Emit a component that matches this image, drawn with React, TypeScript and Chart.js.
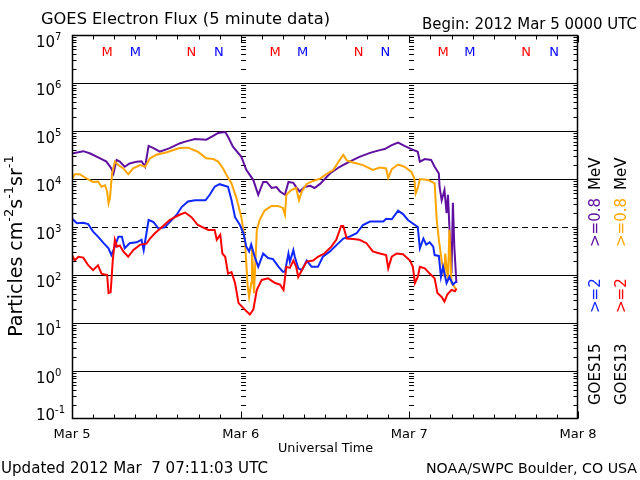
import React, { useEffect, useRef } from "react";
import { Chart, registerables } from "chart.js";

Chart.register(...registerables);

// ---- Data (hours since 2012 Mar 5 00:00 UTC, flux in particles cm^-2 s^-1 sr^-1) ----
const hoursG15Low = [0,1.6,2.6,4.0,4.9,5.6,5.9,6.35,6.8,7.5,8.2,9.2,9.9,10.4,10.9,11.6,12.5,13.9,15.3,16.1,17.5,19.1,19.9,20.8,21.8,22.2,22.9,24.1,24.8,25.8,26.5,27.2,27.7,28.4,29.1,29.6,30.3,30.8,31.5,31.9,32.4,33.1,33.9,34.5,35.3,36.7,38.1,39.5,40.9,42.4,43.8,44.5,45.5,46.4,47.3,48.3,49.2,49.5,50.2,51.1,51.6,52.2,52.3,52.6,53.0,53.3,53.5,53.7,54.0,54.2,54.4,54.7];
const fluxG15Low = [3.4e4,3.8e4,3.4e4,2.7e4,2.3e4,1.66e4,1.3e4,2.5e4,2.3e4,1.8e4,2.1e4,2.3e4,2.35e4,1.8e4,4.9e4,4.4e4,3.7e4,4.4e4,5.5e4,6.0e4,6.8e4,6.6e4,7.6e4,9.1e4,9.5e4,7.6e4,4.7e4,2.9e4,1.55e4,9.5e3,4.7e3,8.7e3,8.7e3,6.5e3,6.8e3,5.5e3,4.7e3,8.7e3,8.3e3,6.8e3,5.5e3,6.8e3,7.2e3,6.5e3,7.9e3,1.3e4,1.8e4,2.3e4,2.9e4,3.5e4,4.0e4,4.2e4,5.1e4,5.75e4,4.9e4,4.2e4,3.7e4,2.3e4,2.6e4,2.5e4,1.8e4,1.3e4,6.9e3,3.6e3,5.9e3,1.95e3,4.7e3,1.0e3,110,3.2e3,390,68];

const hoursG13Low = [0,0.4,1.1,2.1,3.0,3.7,4.2,4.7,5.0,5.2,5.4,5.7,6.1,6.6,7.3,8.0,8.7,9.7,10.4,11.1,12.0,13.5,15.3,16.5,17.9,19.1,20.1,20.8,21.5,22.0,22.7,23.4,24.1,24.6,25.0,25.2,25.5,25.6,25.9,26.3,26.7,27.4,28.4,29.3,30.0,30.3,30.5,31.2,31.9,32.3,32.7,33.4,34.3,35.3,36.2,37.2,38.1,38.6,39.1,40.0,41.4,42.8,43.8,44.7,45.0,45.5,46.4,47.3,48.3,48.7,48.9,49.2,49.5,50.7,51.6,51.9,52.2,52.6,53.0,53.1,53.5,53.7,54.0,54.2,54.7];
const fluxG13Low = [1.02e4,1.26e4,1.26e4,1.02e4,8.7e3,8.9e3,6.9e3,7.4e3,5.5e3,3.1e3,4.0e3,1.3e4,2.3e4,1.95e4,1.66e4,1.26e4,1.66e4,1.95e4,1.8e4,2.7e4,3.2e4,3.6e4,4.4e4,4.5e4,3.7e4,2.7e4,2.6e4,2.3e4,1.66e4,1.2e4,8.1e3,4.0e3,1.6e3,540,58,35,68,390,42,870,1.4e3,2.2e3,2.75e3,2.75e3,2.5e3,1.8e3,4.7e3,5.9e3,6.5e3,3.6e3,5.5e3,7.9e3,9.1e3,1.02e4,1.26e4,1.55e4,2.5e4,3.2e4,2.45e4,2.2e4,1.95e4,1.55e4,1.74e4,1.66e4,1.05e4,1.6e4,2.0e4,1.8e4,1.4e4,1.05e4,5.0e3,6.5e3,1.0e4,9.5e3,8.1e3,1.4e3,540,200,91,280,79,870,68,63,49];

const hoursG15High = [0,0.7,1.6,2.3,3.0,3.7,4.5,5.2,5.6,6.1,6.6,7.1,7.5,8.2,9.2,9.9,10.2,10.9,11.6,12.3,13.2,13.9,14.9,15.6,16.5,17.5,19.0,19.6,20.3,21.0,22.2,22.7,23.2,23.9,24.4,24.8,25.2,25.5,26.0,26.5,27.2,27.9,28.6,29.4,30.0,30.3,30.8,31.0,31.5,31.7,32.2,32.7,33.4,34.1,35.0,35.7,36.7,37.7,38.6,39.5,40.5,41.4,42.4,43.3,44.3,44.7,45.5,46.4,47.1,47.8,48.8,49.2,49.5,50.0,50.4,50.9,51.4,51.6,52.2,52.5,52.8,53.3,53.7,54.2,54.7];
const fluxG15High = [1.5e3,1.2e3,1.23e3,1.15e3,800,630,460,360,260,390,630,630,360,460,480,540,330,1.4e3,1.26e3,930,980,1.26e3,1.8e3,2.6e3,3.4e3,3.6e3,3.6e3,4.7e3,6.9e3,7.8e3,6.9e3,3.6e3,1.6e3,1.1e3,740,390,310,430,240,148,280,225,215,148,117,117,280,190,330,240,138,126,200,148,148,240,310,430,575,630,740,1.1e3,1.3e3,1.3e3,1.3e3,1.48e3,1.45e3,2.2e3,1.86e3,1.4e3,1.1e3,1.0e3,360,575,430,480,390,260,250,91,148,68,91,63,74];

const hoursG13High = [0,0.4,0.9,1.6,2.3,3.0,3.7,4.2,4.7,5.0,5.2,5.5,5.8,6.1,6.4,6.8,7.3,8.0,8.7,9.7,10.6,11.1,11.8,12.8,13.9,15.3,16.1,17.0,17.9,19.4,20.3,20.6,21.1,21.4,21.8,22.2,22.7,23.2,23.7,24.6,25.3,25.8,26.3,27.0,27.9,28.9,29.6,30.1,30.5,31.0,31.5,31.9,32.2,32.7,33.4,34.3,35.0,35.9,36.9,37.6,38.3,38.6,39.1,40.0,40.9,41.9,42.8,43.8,44.7,45.0,45.5,46.2,47.1,48.1,48.5,48.8,49.2,49.5,50.2,50.9,51.6,52.0,52.6,53.0,53.4,54.0,54.5,54.7];
const fluxG13High = [260,200,240,230,160,126,160,107,102,100,42,44,200,540,390,410,310,240,330,430,450,575,740,1.0e3,1.4e3,1.8e3,2.0e3,1.6e3,1.1e3,870,870,540,690,280,240,107,115,68,26,19,15,19,49,79,85,68,63,49,148,141,200,148,91,126,190,200,240,280,390,540,1.05e3,1.05e3,575,560,540,460,310,280,260,138,240,280,270,200,148,68,91,148,138,107,85,42,35,28,39,49,46,52];

// ---- Axis / label text ----
const dayHours = [0, 24, 48, 72];
const dayLabels = ["Mar 5", "Mar 6", "Mar 7", "Mar 8"];
const decadeValues = [1e7, 1e6, 1e5, 1e4, 1e3, 1e2, 1e1, 1e0, 1e-1];
const decadeExponents = ["7", "6", "5", "4", "3", "2", "1", "0", "-1"];
const dashedDecade = 1e3;
const minorMultipliers = [2, 3, 4, 5, 6, 7, 8, 9];
const tickStepHours = 3;
// Markers at top
const markerHours = [5.0, 9.0, 17.0, 20.9, 28.9, 32.8, 40.8, 44.6, 52.8, 56.6, 64.6, 68.6];
const markerLetters = ["M","M","N","N","M","M","N","N","M","M","N","N"];
const markerColors = ["#ff0000","#0000ff","#ff0000","#0000ff","#ff0000","#0000ff","#ff0000","#0000ff","#ff0000","#0000ff","#ff0000","#0000ff"];

const titleText = "GOES Electron Flux (5 minute data)";
const beginText = "Begin: 2012 Mar 5 0000 UTC";
const updatedText = "Updated 2012 Mar  7 07:11:03 UTC";
const creditText = "NOAA/SWPC Boulder, CO USA";
const xTitle = "Universal Time";

const COL_PURPLE = "rgb(96,16,160)";
const COL_ORANGE = "rgb(255,165,0)";
const COL_BLUE = "rgb(16,40,255)";
const COL_RED = "rgb(255,0,0)";

const FONT = "'DejaVu Sans', sans-serif";

function toPoints(h: number[], v: number[]) {
  return h.map((x, i) => ({ x, y: v[i] }));
}

function drawRich(ctx: CanvasRenderingContext2D, parts: [string, boolean][], x: number, y: number, base: number, sup: number) {
  ctx.textAlign = "left";
  let cx = x;
  for (const [t, isSup] of parts) {
    ctx.font = `${isSup ? sup : base}px ${FONT}`;
    ctx.fillText(t, cx, isSup ? y - base * 0.45 : y);
    cx += ctx.measureText(t).width;
  }
  return cx - x;
}
function measureRich(ctx: CanvasRenderingContext2D, parts: [string, boolean][], base: number, sup: number) {
  let w = 0;
  for (const [t, isSup] of parts) {
    ctx.font = `${isSup ? sup : base}px ${FONT}`;
    w += ctx.measureText(t).width;
  }
  return w;
}
// draw text squeezed/stretched horizontally to a given width; x is the left edge
function fitText(ctx: CanvasRenderingContext2D, text: string, left: number, y: number, width: number, size: number) {
  ctx.save();
  ctx.font = `${size}px ${FONT}`;
  ctx.textAlign = "left";
  const w = ctx.measureText(text).width;
  ctx.translate(left, y);
  ctx.scale(width / w, 1);
  ctx.fillText(text, 0, 0);
  ctx.restore();
}

const goesPlugin = {
  id: "goesDecor",
  beforeDatasetsDraw(chart: any) {
    const { ctx, chartArea: a, scales } = chart;
    const xs = scales.x, ys = scales.y;
    ctx.save();
    ctx.strokeStyle = "#000";
    ctx.lineWidth = 1;
    for (const d of decadeValues) {
      if (d === decadeValues[0] || d === decadeValues[decadeValues.length - 1]) continue;
      const py = Math.round(ys.getPixelForValue(d)) + 0.5;
      ctx.setLineDash(d === dashedDecade ? [6, 4] : []);
      ctx.beginPath();
      ctx.moveTo(a.left, py);
      ctx.lineTo(a.right, py);
      ctx.stroke();
    }
    ctx.setLineDash([]);
    // minor ticks at the day boundaries
    for (const h of dayHours.slice(1, 3)) {
      const px = Math.round(xs.getPixelForValue(h));
      for (const d of decadeValues.slice(1)) {
        for (const m of minorMultipliers) {
          const py = Math.round(ys.getPixelForValue(d * m)) + 0.5;
          ctx.beginPath();
          ctx.moveTo(px, py);
          ctx.lineTo(px + 5, py);
          ctx.stroke();
        }
      }
    }
    ctx.restore();
  },
  afterDraw(chart: any) {
    const { ctx, chartArea: a, scales } = chart;
    const xs = scales.x, ys = scales.y;
    ctx.save();
    ctx.strokeStyle = "#000";
    ctx.fillStyle = "#000";
    ctx.lineWidth = 1;
    const L = Math.round(a.left) + 0.5, R = Math.round(a.right) - 0.5;
    const T = Math.round(a.top) + 0.5, B = Math.round(a.bottom) - 0.5;
    ctx.lineWidth = 1.5;
    ctx.strokeRect(L, T, R - L, B - T);
    ctx.lineWidth = 1;
    for (const d of decadeValues.slice(1)) {
      for (const m of minorMultipliers) {
        const py = Math.round(ys.getPixelForValue(d * m)) + 0.5;
        ctx.beginPath();
        ctx.moveTo(L, py); ctx.lineTo(L + 4, py);
        ctx.moveTo(R, py); ctx.lineTo(R - 4, py);
        ctx.stroke();
      }
    }
    for (let h = 0; h <= 72; h += tickStepHours) {
      const px = Math.round(xs.getPixelForValue(h)) + 0.5;
      const len = h % 24 === 0 ? 7 : 4;
      ctx.beginPath();
      ctx.moveTo(px, B); ctx.lineTo(px, B - len);
      ctx.moveTo(px, T); ctx.lineTo(px, T + len);
      ctx.stroke();
    }
    // y labels 10^n
    ctx.textBaseline = "alphabetic";
    decadeValues.forEach((d, i) => {
      const py = ys.getPixelForValue(d);
      const base = Math.min(py + 12, a.bottom + 1);
      drawRich(ctx, [["10", false], [decadeExponents[i], true]], 36, base, 15, 10);
    });
    // x labels
    dayHours.forEach((h, i) => {
      const cx = xs.getPixelForValue(h);
      fitText(ctx, dayLabels[i], cx - 18.5, 438, 37, 13);
    });
    fitText(ctx, xTitle, 278, 452, 95, 13);
    // M / N markers
    ctx.font = `13px ${FONT}`;
    ctx.textAlign = "center";
    markerHours.forEach((h, i) => {
      ctx.fillStyle = markerColors[i];
      ctx.fillText(markerLetters[i], xs.getPixelForValue(h), 56);
    });
    ctx.fillStyle = "#000";
    fitText(ctx, titleText, 41, 24, 289, 16);
    fitText(ctx, beginText, 422, 29, 215, 15);
    fitText(ctx, updatedText, 1, 473, 267, 15);
    fitText(ctx, creditText, 426, 473, 211, 14);
    // y title (rotated)
    const yParts: [string, boolean][] = [["Particles cm", false], ["-2", true], ["s", false], ["-1", true], ["sr", false], ["-1", true]];
    ctx.save();
    ctx.translate(22, 246);
    ctx.rotate(-Math.PI / 2);
    const w = measureRich(ctx, yParts, 19, 13);
    drawRich(ctx, yParts, -w / 2, 0, 19, 13);
    ctx.restore();
    // right side legend (rotated)
    const legend = (x: number, items: [string, string, number][]) => {
      for (const [t, c, y0] of items) {
        ctx.save();
        ctx.translate(x, y0);
        ctx.rotate(-Math.PI / 2);
        ctx.font = `15px ${FONT}`;
        ctx.fillStyle = c;
        ctx.textAlign = "left";
        ctx.textBaseline = "middle";
        ctx.fillText(t, 0, 0);
        ctx.restore();
      }
    };
    legend(596, [["GOES15", "#000", 405], [">=2", COL_BLUE, 313], [">=0.8", COL_PURPLE, 247], ["MeV", "#000", 190]]);
    legend(622, [["GOES13", "#000", 405], [">=2", COL_RED, 313], [">=0.8", COL_ORANGE, 247], ["MeV", "#000", 190]]);
    ctx.restore();
  },
};

export default function App() {
  const ref = useRef<HTMLCanvasElement | null>(null);
  useEffect(() => {
    if (!ref.current) return;
    const chart = new Chart(ref.current, {
      type: "line",
      data: {
        datasets: [
          { label: "GOES13 >=2 MeV", data: toPoints(hoursG13High, fluxG13High), borderColor: COL_RED, order: 1 },
          { label: "GOES15 >=2 MeV", data: toPoints(hoursG15High, fluxG15High), borderColor: COL_BLUE, order: 2 },
          { label: "GOES13 >=0.8 MeV", data: toPoints(hoursG13Low, fluxG13Low), borderColor: COL_ORANGE, order: 3 },
          { label: "GOES15 >=0.8 MeV", data: toPoints(hoursG15Low, fluxG15Low), borderColor: COL_PURPLE, order: 4 },
        ],
      },
      options: {
        responsive: false,
        animation: false,
        events: [],
        layout: { padding: { left: 72, right: 62, top: 35, bottom: 61 } },
        elements: {
          line: { borderWidth: 2, tension: 0, fill: false },
          point: { radius: 0 },
        },
        plugins: { legend: { display: false }, tooltip: { enabled: false }, title: { display: false } },
        scales: {
          x: { type: "linear", min: 0, max: 72, display: false },
          y: { type: "logarithmic", min: 0.1, max: 1e7, display: false },
        },
      },
      plugins: [goesPlugin],
    } as any);
    return () => chart.destroy();
  }, []);
  return (
    <div style={{ position: "fixed", left: 0, top: 0, width: 640, height: 480, background: "#fff" }}>
      <canvas ref={ref} width={640} height={480} style={{ width: 640, height: 480, display: "block" }} />
    </div>
  );
}
